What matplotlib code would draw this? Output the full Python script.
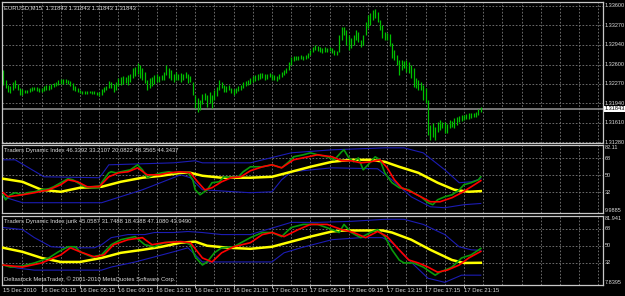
import numpy as np
import matplotlib.pyplot as plt
from matplotlib.transforms import blended_transform_factory

# EURUSD M15, one bar every 15 minutes from 15 Dec 2010 21:15
highs = [
    1.32504, 1.32334, 1.32249, 1.32232, 1.32300, 1.32334, 1.32266, 1.32198, 1.32181, 1.32164,
    1.32164, 1.32198, 1.32215, 1.32215, 1.32215, 1.32198, 1.32198, 1.32232, 1.32249, 1.32249,
    1.32266, 1.32283, 1.32300, 1.32334, 1.32351, 1.32351, 1.32351, 1.32334, 1.32317, 1.32283,
    1.32232, 1.32198, 1.32164, 1.32147, 1.32147, 1.32147, 1.32147, 1.32147, 1.32147, 1.32130,
    1.32130, 1.32181, 1.32215, 1.32232, 1.32317, 1.32300, 1.32266, 1.32300, 1.32368, 1.32385,
    1.32402, 1.32385, 1.32419, 1.32436, 1.32538, 1.32555, 1.32623, 1.32589, 1.32538, 1.32470,
    1.32334, 1.32368, 1.32385, 1.32419, 1.32436, 1.32402, 1.32419, 1.32470, 1.32589, 1.32538,
    1.32504, 1.32436, 1.32470, 1.32436, 1.32453, 1.32436, 1.32470, 1.32436, 1.32402, 1.32300,
    1.32079, 1.32028, 1.31994, 1.32096, 1.32113, 1.32079, 1.32130, 1.32079, 1.32164, 1.32215,
    1.32334, 1.32300, 1.32249, 1.32232, 1.32249, 1.32198, 1.32181, 1.32198, 1.32232, 1.32249,
    1.32300, 1.32317, 1.32334, 1.32368, 1.32402, 1.32419, 1.32436, 1.32453, 1.32453, 1.32436,
    1.32436, 1.32453, 1.32436, 1.32419, 1.32402, 1.32436, 1.32470, 1.32504, 1.32538, 1.32640,
    1.32725, 1.32742, 1.32742, 1.32742, 1.32759, 1.32742, 1.32759, 1.32793, 1.32844, 1.32895,
    1.32929, 1.32912, 1.32895, 1.32878, 1.32895, 1.32878, 1.32895, 1.32878, 1.32844, 1.32827,
    1.33099, 1.33235, 1.33235, 1.33184, 1.33099, 1.33048, 1.33099, 1.33184, 1.33150, 1.33014,
    1.33099, 1.33320, 1.33439, 1.33473, 1.33524, 1.33541, 1.33490, 1.33354, 1.33269, 1.33150,
    1.33133, 1.33116, 1.32963, 1.32844, 1.32759, 1.32674, 1.32674, 1.32657, 1.32674, 1.32640,
    1.32589, 1.32538, 1.32368, 1.32334, 1.32300, 1.32249, 1.32198, 1.31994, 1.31569, 1.31603,
    1.31535, 1.31620, 1.31654, 1.31620, 1.31620, 1.31586, 1.31654, 1.31637, 1.31688, 1.31705,
    1.31722, 1.31739, 1.31739, 1.31756, 1.31773, 1.31773, 1.31773, 1.31790, 1.31841, 1.31875,
]
lows = [
    1.32249, 1.32198, 1.32130, 1.32113, 1.32164, 1.32198, 1.32164, 1.32079, 1.32079, 1.32113,
    1.32113, 1.32130, 1.32147, 1.32164, 1.32147, 1.32130, 1.32130, 1.32147, 1.32164, 1.32164,
    1.32181, 1.32215, 1.32232, 1.32249, 1.32266, 1.32266, 1.32283, 1.32266, 1.32232, 1.32164,
    1.32147, 1.32130, 1.32113, 1.32096, 1.32096, 1.32096, 1.32113, 1.32096, 1.32096, 1.32079,
    1.32062, 1.32079, 1.32130, 1.32164, 1.32198, 1.32198, 1.32130, 1.32164, 1.32232, 1.32249,
    1.32266, 1.32283, 1.32249, 1.32300, 1.32368, 1.32402, 1.32436, 1.32368, 1.32334, 1.32283,
    1.32164, 1.32198, 1.32232, 1.32266, 1.32300, 1.32300, 1.32334, 1.32334, 1.32419, 1.32368,
    1.32334, 1.32300, 1.32334, 1.32334, 1.32300, 1.32334, 1.32368, 1.32283, 1.32300, 1.32079,
    1.31858, 1.31790, 1.31824, 1.31926, 1.31994, 1.31875, 1.31943, 1.31858, 1.31994, 1.32062,
    1.32164, 1.32198, 1.32130, 1.32130, 1.32164, 1.32113, 1.32079, 1.32113, 1.32147, 1.32164,
    1.32198, 1.32232, 1.32249, 1.32266, 1.32300, 1.32317, 1.32334, 1.32351, 1.32368, 1.32334,
    1.32351, 1.32385, 1.32334, 1.32334, 1.32317, 1.32351, 1.32385, 1.32419, 1.32453, 1.32504,
    1.32589, 1.32657, 1.32674, 1.32674, 1.32691, 1.32674, 1.32691, 1.32708, 1.32759, 1.32810,
    1.32844, 1.32827, 1.32810, 1.32793, 1.32810, 1.32810, 1.32827, 1.32793, 1.32759, 1.32759,
    1.32810, 1.33014, 1.33099, 1.32929, 1.32844, 1.32878, 1.32929, 1.33014, 1.32980, 1.32895,
    1.32929, 1.33099, 1.33218, 1.33269, 1.33354, 1.33388, 1.33320, 1.33184, 1.33048, 1.33014,
    1.33014, 1.32912, 1.32708, 1.32674, 1.32589, 1.32419, 1.32504, 1.32538, 1.32470, 1.32453,
    1.32368, 1.32215, 1.32198, 1.32164, 1.32164, 1.31994, 1.31943, 1.31399, 1.31314, 1.31365,
    1.31314, 1.31450, 1.31484, 1.31518, 1.31433, 1.31433, 1.31518, 1.31535, 1.31518, 1.31569,
    1.31620, 1.31637, 1.31654, 1.31671, 1.31671, 1.31688, 1.31705, 1.31705, 1.31739, 1.31790,
]
last_price = 1.31843
price_ticks = [1.33600, 1.33270, 1.32940, 1.32600, 1.32270, 1.31940, 1.31610, 1.31280]

# Traders Dynamic Index (bar index, value)
tdi_rsi_bars = [0, 1, 3, 5, 8, 10, 13, 16, 19, 21, 24, 27, 29, 31, 34, 37, 40, 41, 44, 45,
                47, 49, 53, 56, 58, 60, 63, 66, 69, 71, 74, 77, 79, 80, 82, 85, 87, 90, 92, 95,
                98, 100, 103, 108, 112, 116, 119, 121, 125, 128, 131, 135, 138, 141, 142, 144,
                146, 148, 150, 152, 155, 157, 159, 162, 165, 169, 171, 174, 177, 179, 181, 184,
                187, 190, 192, 195, 198, 199]
tdi_rsi = [29.3, 24.0, 29.3, 31.5, 29.3, 31.5, 32.5, 34.6, 35.7, 37.8, 42.1, 46.3, 45.2, 42.1,
           37.8, 36.8, 36.8, 42.1, 52.6, 53.7, 52.6, 53.7, 55.8, 61.1, 55.8, 47.4, 50.5, 52.6,
           53.7, 52.6, 53.7, 52.6, 45.2, 34.6, 29.3, 34.6, 42.1, 43.1, 48.4, 47.4, 48.4, 53.7,
           59.0, 59.0, 61.1, 57.9, 64.3, 69.6, 71.7, 73.8, 71.7, 69.6, 66.4, 74.9, 77.0, 68.5,
           64.3, 68.5, 55.8, 61.1, 69.6, 66.4, 52.6, 42.1, 36.8, 34.6, 31.5, 27.2, 20.9, 18.8,
           24.0, 27.2, 29.3, 34.6, 40.0, 42.1, 45.2, 48.4]
tdi_sig_bars = [0, 2, 8, 13, 19, 24, 27, 31, 35, 40, 44, 48, 52, 56, 60, 65, 69, 74, 78, 81,
                84, 87, 91, 95, 99, 103, 108, 112, 116, 121, 127, 131, 137, 141, 145, 149, 153,
                157, 160, 163, 166, 170, 174, 178, 182, 187, 191, 195, 199]
tdi_sig = [31.5, 27.2, 29.3, 31.5, 34.6, 40.0, 45.2, 43.1, 37.8, 37.8, 48.4, 52.6, 53.7, 57.9,
           50.5, 50.5, 52.6, 53.7, 52.6, 43.1, 34.6, 36.8, 43.1, 47.4, 48.4, 54.8, 59.0, 61.1,
           57.9, 66.4, 69.6, 71.7, 69.6, 65.4, 65.4, 63.2, 64.3, 66.4, 57.9, 45.2, 36.8, 32.5,
           27.2, 21.9, 21.9, 26.2, 31.5, 37.8, 44.3]
tdi_base_bars = [0, 8, 16, 24, 32, 41, 49, 58, 66, 74, 78, 83, 91, 103, 112, 120, 128, 137,
                 145, 153, 159, 165, 173, 181, 188, 194, 199]
tdi_base = [46.3, 43.1, 34.6, 32.5, 36.8, 37.8, 43.1, 47.4, 49.5, 52.6, 52.6, 49.5, 47.4, 47.4,
            48.4, 53.7, 59.0, 64.3, 66.4, 66.4, 64.3, 59.0, 52.6, 42.1, 34.6, 32.5, 33.2]
tdi_up_bars = [0, 5, 17, 40, 41, 44, 71, 80, 83, 103, 120, 137, 159, 167, 175, 184, 190, 195, 199]
tdi_up = [66.4, 66.4, 48.4, 47.4, 50.5, 61.1, 63.2, 65.4, 63.2, 63.2, 73.8, 77.0, 79.1, 79.1,
          73.8, 55.8, 42.1, 43.1, 46.3]
tdi_dn_bars = [0, 8, 41, 58, 74, 78, 83, 103, 112, 116, 120, 137, 156, 162, 170, 178, 184, 192, 199]
tdi_dn = [27.2, 20.9, 20.9, 34.6, 50.5, 47.4, 34.6, 31.5, 32.5, 45.2, 53.7, 57.9, 56.9, 45.2,
          27.2, 16.6, 15.6, 18.8, 20.1]

# Traders Dynamic Index jurik
jur_rsi_bars = [0, 3, 8, 13, 19, 23, 27, 30, 32, 37, 41, 45, 49, 55, 59, 63, 67, 71, 75, 78,
                80, 83, 85, 88, 91, 96, 103, 108, 112, 116, 120, 125, 131, 137, 140, 142, 145,
                149, 153, 156, 159, 162, 165, 167, 171, 175, 180, 182, 187, 191, 195, 199]
jur_rsi = [29.3, 27.1, 28.2, 31.5, 36.9, 43.5, 48.9, 48.9, 43.5, 38.0, 40.2, 51.1, 56.5, 59.8,
           51.1, 48.9, 53.3, 54.4, 54.4, 51.1, 38.0, 29.3, 32.6, 42.4, 47.8, 48.9, 58.7, 64.2,
           64.2, 59.8, 69.6, 72.9, 72.9, 67.4, 64.2, 72.9, 64.2, 58.7, 64.2, 67.4, 59.8, 45.6,
           34.7, 31.5, 31.5, 27.1, 18.4, 21.6, 27.1, 36.9, 40.2, 47.1]
jur_sig_bars = [0, 8, 16, 24, 28, 32, 38, 42, 46, 52, 58, 62, 67, 74, 78, 83, 87, 91, 96, 103,
                108, 112, 117, 123, 128, 135, 141, 146, 151, 156, 160, 165, 169, 173, 177, 181,
                185, 190, 194, 199]
jur_sig = [29.3, 27.1, 31.5, 40.2, 47.8, 43.5, 38.0, 40.2, 51.1, 56.5, 58.7, 51.1, 53.3, 54.4,
           53.3, 36.9, 32.6, 42.4, 48.9, 53.3, 62.0, 64.2, 59.8, 67.4, 72.9, 72.9, 67.4, 64.2,
           58.7, 65.3, 59.8, 45.6, 34.7, 31.5, 27.1, 21.6, 23.8, 29.3, 36.9, 43.9]
jur_base_bars = [0, 8, 16, 24, 32, 41, 49, 58, 66, 74, 80, 85, 94, 103, 112, 120, 128, 137,
                 142, 158, 162, 170, 178, 187, 192, 199]
jur_base = [47.8, 43.5, 36.9, 32.6, 32.6, 36.9, 42.4, 45.6, 48.9, 53.3, 54.4, 50.0, 47.8, 46.7,
            48.9, 54.4, 59.8, 65.3, 66.4, 66.4, 64.2, 56.5, 45.6, 34.7, 31.5, 31.7]
jur_up_bars = [0, 8, 13, 20, 27, 38, 41, 45, 52, 59, 63, 71, 77, 83, 91, 103, 120, 131, 145,
               159, 167, 175, 184, 190, 195, 199]
jur_up = [69.6, 67.4, 58.7, 48.9, 47.8, 47.8, 51.1, 58.7, 62.0, 62.0, 64.2, 64.2, 65.3, 64.2,
          62.0, 62.0, 75.1, 75.1, 76.2, 78.4, 78.4, 72.9, 62.0, 48.9, 45.6, 45.1]
jur_dn_bars = [0, 6, 13, 41, 45, 55, 63, 71, 77, 80, 83, 90, 103, 112, 117, 124, 137, 149, 158,
               162, 169, 177, 184, 191, 199]
jur_dn = [29.3, 26.0, 23.8, 23.8, 27.1, 32.6, 38.0, 43.5, 47.8, 40.2, 32.6, 32.6, 32.6, 32.6,
          42.4, 47.8, 56.5, 58.7, 58.7, 53.3, 34.7, 15.1, 10.7, 18.4, 18.4]

time_labels = ["15 Dec 2010", "16 Dec 01:15", "16 Dec 05:15", "16 Dec 09:15", "16 Dec 13:15",
               "16 Dec 17:15", "16 Dec 21:15", "17 Dec 01:15", "17 Dec 05:15", "17 Dec 09:15",
               "17 Dec 13:15", "17 Dec 17:15", "17 Dec 21:15"]

FONT = ['Liberation Sans', 'DejaVu Sans']
TXT = '#dcdcdc'
GRID = '#7a7a7a'
FS = 4.2

fig = plt.figure(figsize=(6.25, 2.96), dpi=100, facecolor='black')
W, H = 625.0, 296.0
ax_main = fig.add_axes([2 / W, 1 - 143 / H, 601 / W, 141 / H])
ax_tdi = fig.add_axes([2 / W, 1 - 213 / H, 601 / W, 68 / H])
ax_jur = fig.add_axes([2 / W, 1 - 285 / H, 601 / W, 69 / H])

n_bars = len(highs)
bars = np.arange(n_bars)
x_max = -0.5 + 601 / 2.4

for ax in (ax_main, ax_tdi, ax_jur):
    ax.set_facecolor('black')
    ax.set_xlim(-0.5, x_max)
    ax.set_xticks([])
    ax.set_yticks([])
    for s in ax.spines.values():
        s.set_color('#c8c8c8')
        s.set_linewidth(0.9)
    for g in range(8, int(x_max), 8):
        ax.axvline(g, color=GRID, lw=0.6, dashes=(2, 2), zorder=0)


def right_label(ax, y, text, va='center', color=TXT, **kw):
    tr = blended_transform_factory(ax.transAxes, ax.transData)
    ax.text(1.003, y, text, transform=tr, ha='left', va=va, color=color,
            fontsize=4.0, family=FONT, clip_on=False, **kw)


# price panel
ax_main.set_ylim(1.31263, 1.33668)
for p in price_ticks:
    ax_main.axhline(p, color=GRID, lw=0.6, dashes=(2, 2), zorder=0)
    right_label(ax_main, p, "%.5f" % p)
ax_main.axhline(last_price, color='#8a8a8a', lw=1.2, zorder=1)
ax_main.vlines(bars, lows, highs, color='#00c000', lw=0.9, zorder=2)
right_label(ax_main, last_price, "%.5f" % last_price, color='black',
            bbox=dict(fc='white', ec='none', pad=0.5))
ax_main.text(0.004, 0.975, "EURUSD,M15  1.31843 1.31843 1.31843 1.31843",
             transform=ax_main.transAxes, ha='left', va='top', color=TXT,
             fontsize=FS, family=FONT)


def tdi_panel(ax, lo, hi, up, dn, base, rsi, sig, title):
    ax.set_ylim(lo, hi)
    for lv in (68, 50, 32):
        ax.axhline(lv, color=GRID, lw=0.6, dashes=(2, 2), zorder=0)
        right_label(ax, lv, str(lv))
    right_label(ax, hi, ("%.4f" % hi).rstrip('0'), va='top')
    right_label(ax, lo, ("%.4f" % lo).rstrip('0'), va='bottom')
    ax.plot(up[0], up[1], color='#1c1cb4', lw=0.8, zorder=2)
    ax.plot(dn[0], dn[1], color='#1c1cb4', lw=0.8, zorder=2)
    ax.plot(base[0], base[1], color='#ffff00', lw=1.8, zorder=3)
    ax.plot(rsi[0], rsi[1], color='#0a9a0a', lw=1.2, zorder=4)
    ax.plot(sig[0], sig[1], color='#ff0000', lw=1.2, zorder=5)
    ax.text(0.004, 0.95, title, transform=ax.transAxes, ha='left', va='top',
            color=TXT, fontsize=FS, family=FONT)


tdi_panel(ax_tdi, 9.9885, 82.11, (tdi_up_bars, tdi_up), (tdi_dn_bars, tdi_dn),
          (tdi_base_bars, tdi_base), (tdi_rsi_bars, tdi_rsi), (tdi_sig_bars, tdi_sig),
          "Traders Dynamic Index 46.3392 33.2107 20.0822 48.3565 44.3437")
tdi_panel(ax_jur, 7.8395, 81.941, (jur_up_bars, jur_up), (jur_dn_bars, jur_dn),
          (jur_base_bars, jur_base), (jur_rsi_bars, jur_rsi), (jur_sig_bars, jur_sig),
          "Traders Dynamic Index jurik 45.0587 31.7488 18.4388 47.1080 43.9490")
ax_jur.text(0.004, 0.05, "Deltastock MetaTrader, \u00a9 2001-2010 MetaQuotes Software Corp.",
            transform=ax_jur.transAxes, ha='left', va='bottom', color=TXT,
            fontsize=FS, family=FONT)

# time axis
label_bars = list(range(0, 16 * len(time_labels), 16))
ax_jur.set_xticks(label_bars[1:])
ax_jur.tick_params(axis='x', direction='out', length=2.5, width=0.6, color='#c8c8c8',
                   labelbottom=False)
trx = blended_transform_factory(ax_jur.transData, ax_jur.transAxes)
for b, lab in zip(label_bars, time_labels):
    ax_jur.text(b - 0.2, -0.04, lab, transform=trx, ha='left', va='top', color=TXT,
                fontsize=FS, family=FONT, clip_on=False)

fig.savefig('out.png', dpi=100, facecolor='black')
